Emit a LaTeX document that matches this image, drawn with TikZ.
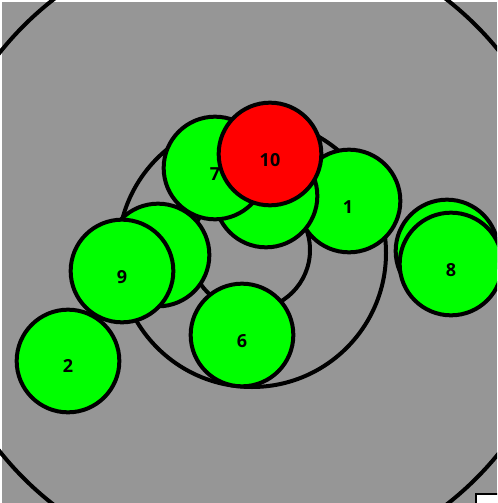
\documentclass[tikz,border=0pt]{standalone}
\usepackage{fontspec}
\setmainfont{Open Sans}
\definecolor{bggray}{RGB}{150,150,150}
\definecolor{ngreen}{RGB}{0,255,0}
\definecolor{nred}{RGB}{255,0,0}
\tikzset{
  ring/.style={draw=black, line width=3pt},
  ball/.style={circle, draw=black, line width=3pt, fill=ngreen, minimum size=77pt, inner sep=0pt},
  redball/.style={ball, fill=nred},
  lbl/.style={font=\fontsize{13.5}{13.5}\selectfont\bfseries, text=black, inner sep=0pt},
}
\begin{document}
\begin{tikzpicture}[x=0.75pt, y=-0.75pt]
\useasboundingbox (0,0) rectangle (497,503);
\fill[white] (0,0) rectangle (497,503);
\begin{scope}
\clip (0,0) rectangle (497,503);
\fill[bggray] (2,2) rectangle (497,503);
\draw[ring] (250,252) circle[radius=240pt];
\draw[ring] (252,253) circle[radius=100.5pt];
\draw[ring] (250,250) circle[radius=45pt];
\node[ball] (n2) at (68,361) {};
\node[ball] (n3) at (158,255) {};
\node[ball] (n9) at (122,271) {};
\node[ball] (n6) at (242,335) {};
\node[ball] (n1) at (349,201) {};
\node[ball] (n4) at (266,196) {};
\node[ball] (n7) at (215,168) {};
\node[redball] (n10) at (270,154) {};
\node[ball] (n5) at (447,251) {};
\node[ball] (n8) at (451,264) {};
\node[lbl] (t2) at (68,366) {2};
\node[lbl] (t9) at (122,277) {9};
\node[lbl] (t6) at (242,341) {6};
\node[lbl] (t1) at (348,207) {1};
\node[lbl] (t7) at (215,174) {7};
\node[lbl] (t10) at (270,160) {10};
\node[lbl] (t8) at (451,270) {8};
\draw[fill=white, draw=black, line width=1.5pt] (476,494) rectangle (520,530);
\end{scope}
\end{tikzpicture}
\end{document}
